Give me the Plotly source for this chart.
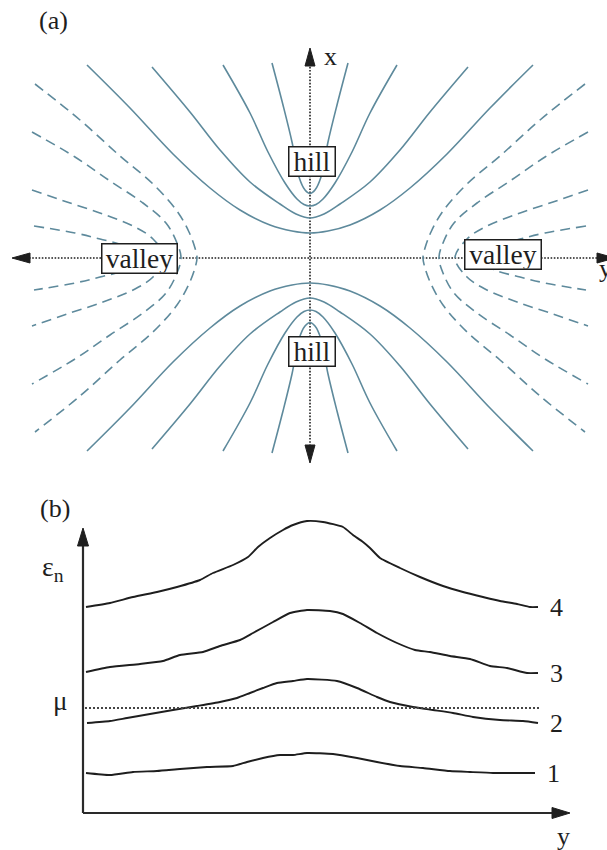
import plotly.graph_objects as go

# ---------------- panel (a): saddle-point contours ----------------
# One quadrant of each "hill" contour (horizontal offset, vertical offset),
# running from the outer end towards the apex on the x axis.
hill_h = [
    [-2.23, -1.80, -1.37, -1.00, -0.70, -0.40, -0.18, 0.0],
    [-1.58, -1.20, -0.90, -0.60, -0.30, -0.14, 0.0],
    [-0.87, -0.60, -0.42, -0.25, -0.13, -0.06, 0.0],
    [-0.38, -0.27, -0.18, -0.11, -0.05, 0.0],
]
hill_v = [
    [1.93, 1.50, 1.04, 0.70, 0.48, 0.33, 0.27, 0.25],
    [1.91, 1.46, 1.08, 0.76, 0.54, 0.44, 0.40],
    [1.93, 1.45, 1.06, 0.75, 0.59, 0.535, 0.52],
    [1.95, 1.53, 1.16, 0.81, 0.68, 0.645],
]

# One quadrant of each "valley" contour, from the outer end to the vertex on the y axis.
valley_h = [
    [-2.75, -2.30, -1.90, -1.57, -1.33, -1.21, -1.15, -1.13],
    [-2.78, -2.35, -2.00, -1.67, -1.44, -1.33, -1.29],
    [-2.78, -2.43, -2.07, -1.75, -1.57, -1.45],
    [-2.76, -2.35, -2.10, -1.85, -1.66],
]
valley_v = [
    [1.74, 1.38, 1.02, 0.74, 0.47, 0.26, 0.10, 0.0],
    [1.26, 1.01, 0.77, 0.55, 0.35, 0.15, 0.0],
    [0.68, 0.56, 0.44, 0.31, 0.19, 0.0],
    [0.32, 0.25, 0.19, 0.12, 0.0],
]

# ---------------- panel (b): energy levels along y ----------------
u4 = [0.03, 0.27, 0.50, 0.74, 0.94, 1.17, 1.30, 1.50, 1.65, 1.75, 1.87, 2.00, 2.10, 2.24, 2.40,
      2.60, 2.70, 2.80, 2.87, 2.97, 3.17, 3.37, 3.60, 3.80, 4.00, 4.17, 4.34, 4.47, 4.55]
e4 = [2.06, 2.10, 2.16, 2.21, 2.26, 2.33, 2.40, 2.48, 2.56, 2.66, 2.75, 2.83, 2.88, 2.92, 2.91,
      2.86, 2.78, 2.71, 2.65, 2.55, 2.45, 2.36, 2.27, 2.21, 2.16, 2.12, 2.09, 2.06, 2.06]
u3 = [0.03, 0.27, 0.57, 0.80, 0.97, 1.20, 1.37, 1.57, 1.70, 1.90, 2.07, 2.24, 2.47, 2.60, 2.77,
      2.94, 3.14, 3.32, 3.47, 3.67, 3.87, 4.07, 4.24, 4.44, 4.55]
e3 = [1.41, 1.46, 1.49, 1.52, 1.58, 1.61, 1.67, 1.73, 1.80, 1.91, 2.00, 2.03, 2.02, 1.99, 1.90,
      1.80, 1.70, 1.63, 1.61, 1.57, 1.54, 1.47, 1.45, 1.40, 1.40]
u2 = [0.04, 0.27, 0.44, 0.67, 0.90, 1.14, 1.37, 1.54, 1.67, 1.80, 1.94, 2.10, 2.24, 2.54, 2.74,
      2.94, 3.07, 3.30, 3.50, 3.70, 3.90, 4.17, 4.40, 4.55]
e2 = [0.90, 0.92, 0.95, 0.99, 1.03, 1.07, 1.11, 1.15, 1.20, 1.25, 1.30, 1.32, 1.34, 1.32, 1.25,
      1.16, 1.11, 1.06, 1.03, 1.00, 0.96, 0.93, 0.92, 0.90]
u1 = [0.03, 0.27, 0.50, 0.74, 0.97, 1.24, 1.50, 1.64, 1.80, 1.97, 2.10, 2.24, 2.50, 2.74, 2.94,
      3.17, 3.40, 3.67, 3.87, 4.10, 4.34, 4.52]
e1 = [0.40, 0.38, 0.41, 0.42, 0.44, 0.46, 0.47, 0.51, 0.55, 0.58, 0.58, 0.60, 0.59, 0.55, 0.51,
      0.47, 0.45, 0.42, 0.41, 0.40, 0.40, 0.40]
level_u = [u1, u2, u3, u4]
level_e = [e1, e2, e3, e4]
level_labels = ["1", "2", "3", "4"]
mu_level = 1.05
mu_span = [0.02, 4.57]

CONTOUR = "#5e8a9c"
INK = "#1e1e1e"
FONT = "Liberation Serif"

fig = go.Figure()

# hill contours: mirror the quadrant left/right, then draw above and below the saddle
for hh, vv in zip(hill_h, hill_v):
    xs = hh + [-x for x in reversed(hh[:-1])]
    ys = vv + list(reversed(vv[:-1]))
    for sign in (1, -1):
        fig.add_trace(go.Scatter(
            x=xs, y=[sign * y for y in ys], mode="lines",
            line=dict(color=CONTOUR, width=1.6, shape="spline", smoothing=1.0),
            xaxis="x", yaxis="y", hoverinfo="skip"))

# valley contours: mirror the quadrant up/down, then draw on both sides
for hh, vv in zip(valley_h, valley_v):
    xs = hh + list(reversed(hh[:-1]))
    ys = vv + [-y for y in reversed(vv[:-1])]
    for sign in (1, -1):
        fig.add_trace(go.Scatter(
            x=[sign * x for x in xs], y=ys, mode="lines",
            line=dict(color=CONTOUR, width=1.6, dash="10px,6px",
                      shape="spline", smoothing=1.0),
            xaxis="x", yaxis="y", hoverinfo="skip"))

# energy levels
for uu, ee in zip(level_u, level_e):
    fig.add_trace(go.Scatter(
        x=uu, y=ee, mode="lines",
        line=dict(color=INK, width=1.9, shape="spline", smoothing=0.5),
        xaxis="x2", yaxis="y2", hoverinfo="skip"))

# chemical potential
fig.add_trace(go.Scatter(
    x=mu_span, y=[mu_level, mu_level], mode="lines",
    line=dict(color="#444444", width=2, dash="2px,2px"),
    xaxis="x2", yaxis="y2", hoverinfo="skip"))


def arrow_head(tip_x, tip_y, dx, dy, xref, yref, length=0.18, half=0.05):
    bx, by = tip_x - dx * length, tip_y - dy * length
    px, py = -dy * half, dx * half
    path = (f"M {tip_x},{tip_y} L {bx + px},{by + py} "
            f"L {bx - px},{by - py} Z")
    return dict(type="path", path=path, xref=xref, yref=yref,
                fillcolor=INK, line=dict(color=INK, width=1), layer="above")


shapes = []
# dotted coordinate axes of panel (a)
dotted = dict(color=INK, width=1.6, dash="1.6px,1.6px")
shapes.append(dict(type="line", xref="x", yref="y", x0=0, y0=-1.88, x1=0, y1=1.93,
                   line=dotted, layer="below"))
shapes.append(dict(type="line", xref="x", yref="y", x0=-2.81, y0=0, x1=2.88, y1=0,
                   line=dotted, layer="below"))
shapes.append(arrow_head(0, 2.10, 0, 1, "x", "y"))
shapes.append(arrow_head(0, -2.05, 0, -1, "x", "y"))
shapes.append(arrow_head(-2.98, 0, -1, 0, "x", "y"))
shapes.append(arrow_head(3.05, 0, 1, 0, "x", "y"))

# solid axes of panel (b)
solid = dict(color="#2a2a2a", width=2.2)
shapes.append(dict(type="line", xref="x2", yref="y2", x0=0, y0=0, x1=0, y1=2.70, line=solid))
shapes.append(dict(type="line", xref="x2", yref="y2", x0=0, y0=0, x1=4.72, y1=0, line=solid))
shapes.append(arrow_head(0, 2.85, 0, 1, "x2", "y2", length=0.18, half=0.055))
shapes.append(arrow_head(4.87, 0, 1, 0, "x2", "y2", length=0.18, half=0.055))

annotations = []


def label(text, x, y, xref, yref, size=25, **kw):
    d = dict(text=text, x=x, y=y, xref=xref, yref=yref, showarrow=False,
             font=dict(family=FONT, size=size, color=INK))
    d.update(kw)
    annotations.append(d)


boxed = dict(bgcolor="white", bordercolor=INK, borderwidth=1.5, borderpad=0, height=28)
label("hill", 0.015, 0.97, "x", "y", size=27.5, width=45, **boxed)
label("hill", 0.015, -0.93, "x", "y", size=27.5, width=45, **boxed)
label("valley", -1.71, 0.0, "x", "y", size=27.5, width=74, **boxed)
label("valley", 1.925, 0.04, "x", "y", size=27.5, width=75, **boxed)
label("(a)", -2.57, 2.38, "x", "y", size=26)
label("x", 0.12, 2.02, "x", "y", size=26, xanchor="left")
label("y", 2.87, -0.10, "x", "y", size=26, xanchor="left")

label("(b)", -0.28, 3.05, "x2", "y2", size=26)
label("ε<sub>n</sub>", -0.30, 2.45, "x2", "y2", size=28)
label("μ", -0.23, 1.12, "x2", "y2", size=27)
label("y", 4.80, -0.23, "x2", "y2", size=26)
for uu, ee, name in zip(level_u, level_e, level_labels):
    label(name, uu[-1] + 0.18, ee[-1], "x2", "y2", size=26, xanchor="center")

hidden = dict(visible=False, fixedrange=True)
fig.update_layout(
    width=607, height=850,
    margin=dict(l=0, r=0, t=0, b=0),
    paper_bgcolor="white", plot_bgcolor="white",
    showlegend=False,
    font=dict(family=FONT),
    xaxis=dict(domain=[0, 1], range=[-3.10, 2.97], anchor="y", **hidden),
    yaxis=dict(domain=[370 / 850, 1], range=[-2.22, 2.58], anchor="x", **hidden),
    xaxis2=dict(domain=[0, 1], range=[-0.83, 5.24], anchor="y2", **hidden),
    yaxis2=dict(domain=[0, 370 / 850], range=[-0.37, 3.33], anchor="x2", **hidden),
    shapes=shapes,
    annotations=annotations,
)

fig.write_html("out.html")
